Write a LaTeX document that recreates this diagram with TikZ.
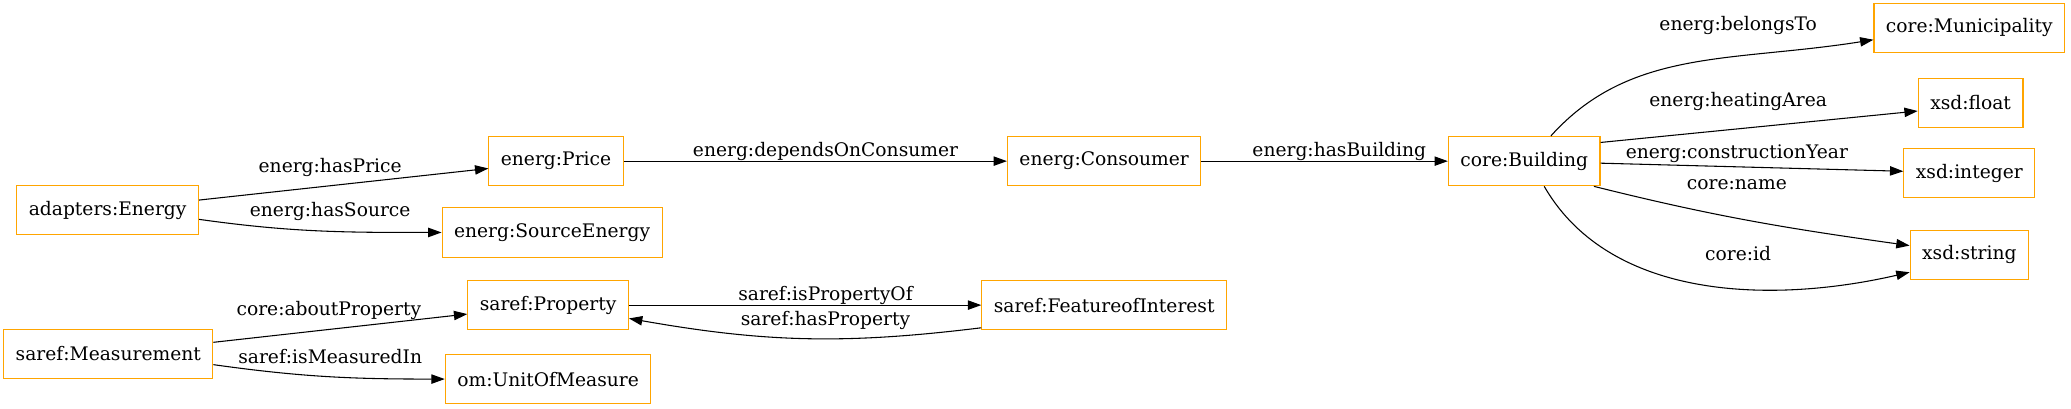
\documentclass[tikz,border=0pt]{standalone}
\usepackage{fontspec}
\setmainfont{DejaVu Serif}
\usepackage{tikz}
\usetikzlibrary{arrows.meta,positioning}
\definecolor{ClassOrange}{HTML}{FFA500}

\begin{document}
\begin{tikzpicture}[x=0.99pt, y=0.99pt, every node/.style={font=\fontsize{14}{16}\selectfont}]
\tikzset{cls/.style={draw=ClassOrange, line width=0.8pt, fill=white, inner xsep=9pt, minimum height=37pt, align=center}}
\tikzset{lbl/.style={inner sep=0pt, anchor=center}}
\tikzset{arrow/.style={-{Triangle[length=10pt, width=7pt]}, line width=0.8pt}}
\useasboundingbox (0,0) rectangle (1568,-309);
% classes
\node[cls] (energy) at (81.5,-159) {adapters:Energy};
\node[cls] (price) at (421,-122) {energ:Price};
\node[cls] (source) at (418,-176) {energ:SourceEnergy};
\node[cls] (consumer) at (836,-122) {energ:Consoumer};
\node[cls] (building) at (1154,-122) {core:Building};
\node[cls] (municipality) at (1491,-21) {core:Municipality};
\node[cls] (float) at (1492,-78) {xsd:float};
\node[cls] (integer) at (1491,-131) {xsd:integer};
\node[cls] (string) at (1491,-193) {xsd:string};
\node[cls] (measurement) at (82,-268) {saref:Measurement};
\node[cls] (property) at (415,-231) {saref:Property};
\node[cls] (unit) at (415,-287) {om:UnitOfMeasure};
\node[cls] (feature) at (836,-231) {saref:FeatureofInterest};
% relations
\draw[arrow] (energy) -- (price) node[lbl] at (250,-127) {energ:hasPrice};
\draw[arrow] ([yshift=-7]energy.east) to[out=-8, in=180] (source.west) node[lbl] at (250,-160) {energ:hasSource};
\draw[arrow] (price) -- (consumer) node[lbl] at (625,-115) {energ:dependsOnConsumer};
\draw[arrow] (consumer) -- (building) node[lbl] at (1014,-115) {energ:hasBuilding};
\draw[arrow] ([xshift=20]building.north) to[out=48, in=189, out looseness=0.9, in looseness=1.1] ([yshift=-9]municipality.west) node[lbl] at (1316,-19) {energ:belongsTo};
\draw[arrow] ([yshift=14]building.east) -- ([yshift=-6]float.west) node[lbl] at (1316,-76.5) {energ:heatingArea};
\draw[arrow] (building) -- (integer) node[lbl] at (1315,-116.6) {energ:constructionYear};
\draw[arrow] ([xshift=-5]building.south east) to[out=-14, in=172] ([yshift=7]string.west) node[lbl] at (1315,-140) {core:name};
\draw[arrow] ([xshift=15]building.south) to[out=-60, in=193, looseness=0.92] ([yshift=-13]string.west) node[lbl] at (1316,-192) {core:id};
\draw[arrow] (measurement) -- (property) node[lbl] at (249,-235) {core:aboutProperty};
\draw[arrow] ([yshift=-8]measurement.east) to[out=-8, in=180] (unit.west) node[lbl] at (250,-270) {saref:isMeasuredIn};
\draw[arrow] (property) -- (feature) node[lbl] at (625,-224) {saref:isPropertyOf};
\draw[arrow] ([yshift=-17]feature.west) to[out=187, in=-10] ([yshift=-10]property.east) node[lbl] at (625,-243) {saref:hasProperty};
\end{tikzpicture}
\end{document}
